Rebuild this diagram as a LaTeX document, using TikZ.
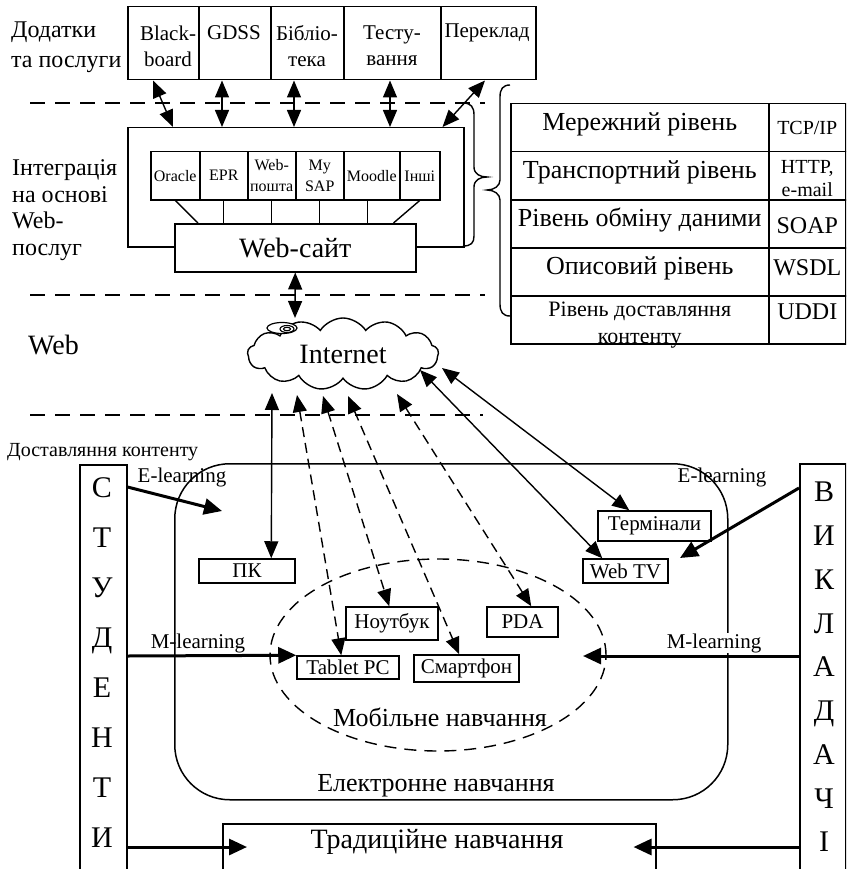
\documentclass[tikz,border=0pt]{standalone}
\usepackage{fontspec}
\setmainfont{Liberation Serif}
\usetikzlibrary{arrows.meta,shapes.symbols,shapes.geometric,calc}
\begin{document}
\begin{tikzpicture}[x=1pt,y=-1pt,
  box/.style={draw,line width=1.5pt,inner sep=0pt,anchor=north west},
  dev/.style={draw,line width=1.5pt,inner sep=0pt,font=\fontsize{21}{24}\selectfont},
  lbl/.style={inner sep=0pt,align=center},
  fa/.style={font=\fontsize{16}{21}\selectfont},
  fb/.style={font=\fontsize{21}{26}\selectfont},
  fc/.style={font=\fontsize{24}{27}\selectfont},
  fd/.style={font=\fontsize{26}{30}\selectfont},
  tip/.tip={Triangle[length=17pt,width=14pt]},
  biarrow/.style={line width=1.4pt,tip-tip},
  dasharrow/.style={biarrow,dash pattern=on 10pt off 6pt},
  fatarrow/.style={line width=3pt,-{Triangle[length=18pt,width=16pt]}},
  sepline/.style={line width=1.6pt,dash pattern=on 15pt off 10pt},
]
\clip (0,0) rectangle (846,869);

% ---------- level separators ----------
\draw[sepline] (30,103) -- (485,103);
\draw[sepline] (30,295) -- (485,295);
\draw[sepline] (30,415) -- (483,415);

% ---------- applications row ----------
\node[box,minimum width=71pt,minimum height=73pt] (bb)  at (127,6) {};
\node[box,minimum width=72pt,minimum height=73pt] (gd)  at (198,6) {};
\node[box,minimum width=73pt,minimum height=73pt] (bib) at (270,6) {};
\node[box,minimum width=97pt,minimum height=73pt] (tes) at (343,6) {};
\node[box,minimum width=95pt,minimum height=73pt] (per) at (440,6) {};
\node[lbl,fb] (bbt)  at (168,46) {Black-\\board};
\node[lbl,fb] (gdt)  at (234,33) {GDSS};
\node[lbl,fb] (bibt) at (307,46) {Бібліо-\\тека};
\node[lbl,fb] (test) at (392,46) {Тесту-\\вання};
\node[lbl,fb] (pert) at (487,33) {Переклад};
\node[lbl,align=left,anchor=west,font=\fontsize{24}{30}\selectfont] (addl) at (11,47) {Додатки\\та послуги};

% ---------- integration block ----------
\node[box,minimum width=336pt,minimum height=119pt] (outer) at (127,127) {};
\node[lbl,align=left,anchor=west,font=\fontsize{24}{26.7}\selectfont] (intl) at (12,210) {Інтеграція\\на основі\\Web-\\послуг};

\node[box,minimum width=49pt,minimum height=48pt] (ora) at (150,151) {};
\node[box,minimum width=48pt,minimum height=48pt] (epr) at (199,151) {};
\node[box,minimum width=48pt,minimum height=48pt] (wml) at (247,151) {};
\node[box,minimum width=48pt,minimum height=48pt] (sap) at (295,151) {};
\node[box,minimum width=56pt,minimum height=48pt] (moo) at (343,151) {};
\node[box,minimum width=40pt,minimum height=48pt] (ins) at (399,151) {};
\node[lbl,fa] at (ora) {Oracle};
\node[lbl,fa] at (epr) {EPR};
\node[lbl,fa] at (wml) {Web-\\пошта};
\node[lbl,fa] at (sap) {My\\SAP};
\node[lbl,fa] at (moo) {Moodle};
\node[lbl,fa] at (ins) {Інші};

\node[box,fill=white,minimum width=241pt,minimum height=48pt] (web) at (174,223) {};
\node[lbl,font=\fontsize{28}{30}\selectfont] (webt) at (web) {Web-сайт};

\draw[line width=1.4pt] (ora.south) -- ($(web.north west)+(24,0)$);
\draw[line width=1.4pt] (epr.south) -- (epr.south |- web.north);
\draw[line width=1.4pt] (wml.south) -- (wml.south |- web.north);
\draw[line width=1.4pt] (sap.south) -- (sap.south |- web.north);
\draw[line width=1.4pt] ($(moo.south)+(-4,0)$) -- ($(moo.south)+(-4,24)$);
\draw[line width=1.4pt] (ins.south) -- ($(web.north east)+(-23,0)$);

% arrows between the applications and the integration block
\draw[biarrow] ($(bb.south west)+(26,0)$)  -- ($(outer.north west)+(46,0)$);
\draw[biarrow] ($(gd.south west)+(24,0)$)  -- ($(outer.north west)+(95,0)$);
\draw[biarrow] ($(bib.south west)+(24,0)$) -- ($(outer.north west)+(167,0)$);
\draw[biarrow] ($(tes.south west)+(47,0)$) -- ($(outer.north west)+(263,0)$);
\draw[biarrow] ($(per.south west)+(45,0)$) -- ($(outer.north east)+(-22,0)$);

% braces
\draw[line width=1.4pt] (463,103) .. controls (471,103) and (474,107) .. (474,115) -- (474,167)
  .. controls (474,174) and (480,177) .. (487,177) .. controls (480,177) and (474,180) .. (474,187)
  -- (474,236) .. controls (474,243) and (471,246) .. (463,246);
\draw[line width=1.4pt] (510,85) .. controls (503,85) and (500,89) .. (500,97) -- (500,180)
  .. controls (500,186) and (494,190) .. (487,190) .. controls (494,190) and (500,194) .. (500,200)
  -- (500,304) .. controls (500,312) and (503,316) .. (510,316);

% ---------- protocol stack table ----------
\foreach \r/\y in {1/103,2/151,3/199,4/247,5/295}{
  \node[box,minimum width=258pt,minimum height=48pt] (tl\r) at (510,\y) {};
  \node[box,minimum width=77pt,minimum height=48pt] (tr\r) at (768,\y) {};
}
\node[lbl,fd] at ($(tl1)+(0,-3)$) {Мережний рівень};
\node[lbl,fd] at ($(tl2)+(0,-3)$) {Транспортний рівень};
\node[lbl,fd] at ($(tl3)+(0,-4)$) {Рівень обміну даними};
\node[lbl,fd] at ($(tl4)+(0,-3)$) {Описовий рівень};
\node[lbl,font=\fontsize{22}{27}\selectfont] at ($(tl5)+(0,5)$) {Рівень доставляння\\контенту};
\node[lbl,font=\fontsize{20}{23}\selectfont] at (tr1) {TCP/IP};
\node[lbl,font=\fontsize{20}{23}\selectfont] at ($(tr2)+(0,3)$) {HTTP,\\e-mail};
\node[lbl,fc] at ($(tr3)+(0,2)$) {SOAP};
\node[lbl,fc] at ($(tr4)+(0,-4)$) {WSDL};
\node[lbl,fc] at ($(tr5)+(0,-8)$) {UDDI};

% ---------- Internet ----------
\node[lbl,anchor=west,font=\fontsize{28}{30}\selectfont] (webl) at (28,345) {Web};
\node[cloud,draw,line width=1.4pt,cloud puffs=13,cloud puff arc=115,aspect=2.6,
      minimum width=191pt,minimum height=72pt,inner sep=0pt,
      font=\fontsize{28}{30}\selectfont] (net) at (343,354) {Internet};
\draw[line width=1.2pt,fill=white] (282,328) ellipse [x radius=15pt,y radius=5.5pt];
\draw[line width=1.1pt] (287,329) ellipse [x radius=7pt,y radius=3.5pt];
\draw[line width=1.1pt] (287,329) ellipse [x radius=3.5pt,y radius=1.7pt];

\coordinate (nTop) at (295,318);
\coordinate (nPK)  at (272,393);
\coordinate (nD1)  at (297,395);
\coordinate (nD2)  at (323,396);
\coordinate (nD3)  at (348,396);
\coordinate (nD4)  at (397,394);
\coordinate (nS1)  at (420,370);
\coordinate (nS2)  at (442,368);
\draw[biarrow] (web.south) -- (nTop);

% ---------- delivery ----------
\node[lbl,anchor=west,font=\fontsize{20}{22}\selectfont] (dell) at (7,452) {Доставляння контенту};

\node[box,minimum width=47pt,minimum height=420pt] (stud) at (79,464) {};
\node[lbl,font=\fontsize{30}{50.1}\selectfont] (studt) at (102,662.5) {С\\Т\\У\\Д\\Е\\Н\\Т\\И};
\node[box,minimum width=46pt,minimum height=420pt] (vikl) at (799,463) {};
\node[lbl,font=\fontsize{30}{43.75}\selectfont] (viklt) at (824,667) {В\\И\\К\\Л\\А\\Д\\А\\Ч\\І};

\node[draw,line width=1.5pt,rounded corners=55pt,minimum width=553pt,minimum height=336pt,
      anchor=north west,inner sep=0pt] (elearn) at (174,463) {};
\fill[white] (280,770) rectangle (592,798.6);
\node[lbl,fd] (elt) at (436,786) {Електронне навчання};

\node[draw,line width=1.4pt,dash pattern=on 12pt off 8pt,ellipse,minimum width=336pt,
      minimum height=192pt,inner sep=0pt] (mob) at (438,655) {};
\node[lbl,fd] (mobt) at (440,717) {Мобільне навчання};

\node[dev,minimum width=96pt,minimum height=24pt]  (pk)    at (247,571)   {ПК};
\node[dev,minimum width=92pt,minimum height=33pt]  (nout)  at (392,623.5) {Ноутбук};
\node[dev,minimum width=102pt,minimum height=23pt] (tab)   at (348,667.5) {Tablet PC};
\node[dev,minimum width=105pt,minimum height=27pt] (smart) at (466.5,668.5) {Смартфон};
\node[dev,minimum width=71pt,minimum height=30pt]  (pda)   at (522.5,622) {PDA};
\node[dev,minimum width=113pt,minimum height=30pt] (term)  at (654.5,526) {Термінали};
\node[dev,minimum width=85pt,minimum height=24pt]  (wtv)   at (625.5,571) {Web TV};

\draw[biarrow] (nPK) -- ($(pk.north west)+(73,0)$);
\draw[dasharrow] (nD1) -- ($(tab.north west)+(45,0)$);
\draw[dasharrow] (nD2) -- ($(nout.north west)+(44,0)$);
\draw[dasharrow] (nD3) -- ($(smart.north west)+(46,0)$);
\draw[dasharrow] (nD4) -- ($(pda.north west)+(45,0)$);
\draw[biarrow] (nS1) -- ($(wtv.north west)+(20,0)$);
\draw[biarrow] (nS2) -- ($(term.north west)+(32,0)$);

% learning modes
\node[lbl,fb] (elL) at (182,477) {E-learning};
\node[lbl,fb] (elR) at (722,477) {E-learning};
\node[lbl,fb] (mlL) at (198,643) {M-learning};
\node[lbl,fb,fill=white,inner sep=0.5pt] (mlR) at (714,643) {M-learning};

\coordinate (eL) at (222,511);
\coordinate (eR) at (680,558);
\coordinate (mR) at (583,656);
\node[box,minimum width=433pt,minimum height=60pt] (trad) at (222,823) {};
\node[lbl,font=\fontsize{28}{30}\selectfont] (tradt) at (437,842) {Традиційне навчання};

\draw[fatarrow] ($(stud.north east)+(0,23)$) -- (eL);
\draw[fatarrow] ($(stud.north east)+(0,192)$) -- (tab.north west);
\draw[fatarrow] ($(stud.north east)+(0,383)$) -- ($(trad.north west)+(25,24)$);
\draw[fatarrow] ($(vikl.north west)+(0,25)$) -- (eR);
\draw[fatarrow] ($(vikl.north west)+(0,193)$) -- (mR);
\draw[fatarrow] ($(vikl.north west)+(0,384)$) -- ($(trad.north east)+(-23,24)$);
\end{tikzpicture}
\end{document}
